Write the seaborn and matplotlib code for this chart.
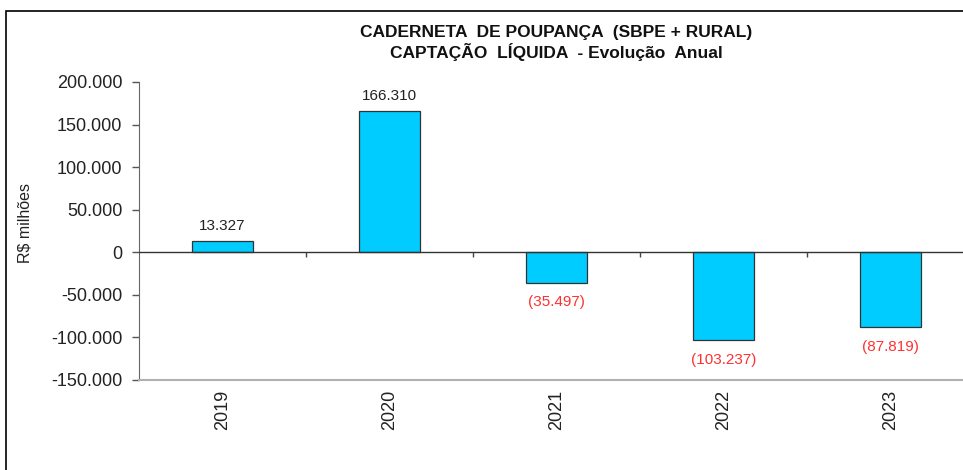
import matplotlib
matplotlib.use("Agg")
import matplotlib.pyplot as plt
import matplotlib.ticker as mticker
from matplotlib.patches import Rectangle
import seaborn as sns
import pandas as pd

# data (R$ milhões)
anos = ["2019", "2020", "2021", "2022", "2023"]
captacao = [13327, 166310, -35497, -103237, -87819]
y_ticks = [-150000, -100000, -50000, 0, 50000, 100000, 150000, 200000]
titulo = "CADERNETA  DE POUPANÇA  (SBPE + RURAL)\nCAPTAÇÃO  LÍQUIDA  - Evolução  Anual"

df = pd.DataFrame({"ano": anos, "valor": captacao})


def fmt_br(v):
    return f"{v:,.0f}".replace(",", ".")


sns.set_style("white")
plt.rcParams["font.family"] = ["Liberation Sans", "DejaVu Sans"]

fig = plt.figure(figsize=(9.63, 4.70), dpi=100)
ax = fig.add_axes([139 / 963, 1 - 380 / 470, 835 / 963, 298 / 470])

sns.barplot(data=df, x="ano", y="valor", color="#00CCFF", saturation=1,
            width=0.36, edgecolor="#333333", linewidth=0.9, ax=ax)

ax.set_xlim(-0.5, len(anos) - 0.5)
ax.set_ylim(-150000, 200000)
ax.set_yticks(y_ticks)
ax.yaxis.set_major_formatter(mticker.FuncFormatter(lambda v, p: fmt_br(v)))
ax.tick_params(axis="y", labelsize=13, length=5, width=1, color="#555555",
               left=True, direction="out", pad=7, labelcolor="#222222")
ax.tick_params(axis="x", labelsize=13, length=0, pad=7, rotation=90,
               labelcolor="#222222")

# zero line with category boundary ticks
ax.axhline(0, color="#333333", lw=1, zorder=3)
fronteiras = [i + 0.5 for i in range(len(anos) - 1)]
ax.vlines(fronteiras, -5500, 0, color="#444444", lw=1, zorder=3)

for s in ["top", "right"]:
    ax.spines[s].set_visible(False)
ax.spines["left"].set_color("#666666")
ax.spines["bottom"].set_color("#b0b0b0")
ax.spines["bottom"].set_linewidth(1.5)

# value labels
for i, v in enumerate(captacao):
    if v >= 0:
        ax.annotate(fmt_br(v), (i, v), xytext=(0, 5.5), textcoords="offset points",
                    ha="center", va="bottom", fontsize=11, color="#222222")
    else:
        ax.annotate("(" + fmt_br(-v) + ")", (i, v), xytext=(0, -9),
                    textcoords="offset points", ha="center", va="top",
                    fontsize=11, color="#ff3030")

ax.set_xlabel("")
ax.set_ylabel(r"R\$ milhões", fontsize=11.5, color="#222222")
ax.yaxis.set_label_coords((32 - 139) / 835, (380 - 223) / 298)

ax.set_title(titulo, fontsize=12.5, fontweight="bold", pad=17, linespacing=1.2,
             color="#111111")

# outer frame of the chart
fig.patches.append(Rectangle((6 / 963, -0.1), 1.2, 1.1 - 11 / 470,
                             transform=fig.transFigure, fill=False,
                             edgecolor="black", lw=1.2, zorder=0))

fig.savefig("out.png", dpi=100)
